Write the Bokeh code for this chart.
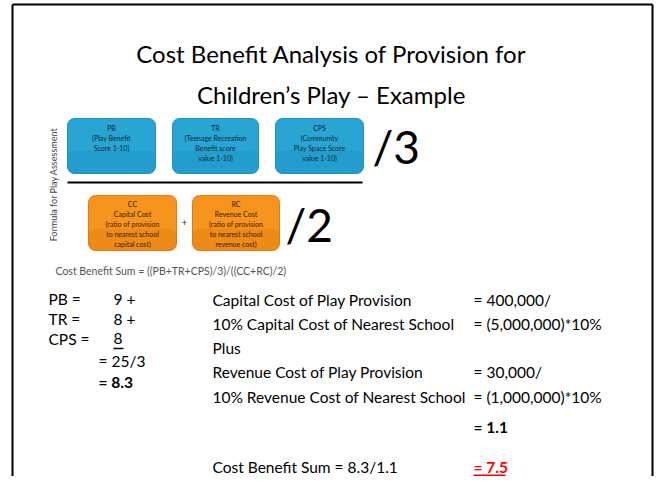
from bokeh.plotting import figure
from bokeh.models import Range1d
from bokeh.core.properties import value
from bokeh.embed import file_html
from bokeh.resources import INLINE

FONT = "Lato"

title_lines = ["Cost Benefit Analysis of Provision for", "Children\u2019s Play \u2013 Example"]

# diagram
top_labels = ["PB", "TR", "CPS"]
top_desc = [["(Play Benefit", "Score 1-10)"],
            ["(Teenage Recreation", "Benefit score", "value 1-10)"],
            ["(Community", "Play Space Score", "value 1-10)"]]
bottom_labels = ["CC", "RC"]
bottom_desc = [["Capital Cost", "(ratio of provision", "to nearest school", "capital cost)"],
               ["Revenue Cost", "(ratio of provision", "to nearest school", "revenue cost)"]]
side_label = "Formula for Play Assessment"
caption = "Cost Benefit Sum = ((PB+TR+CPS)/3)/((CC+RC)/2)"

# left sums
score_names = ["PB =", "TR =", "CPS ="]
score_values = ["9 +", "8 +", "8"]
score_total = "= 25/3"
score_result = "= 8.3"

# right costs
cost_labels = ["Capital Cost of Play Provision",
               "10% Capital Cost of Nearest School",
               "Plus",
               "Revenue Cost of Play Provision",
               "10% Revenue Cost of Nearest School"]
cost_values = ["= 400,000/", "= (5,000,000)*10%", "", "= 30,000/", "= (1,000,000)*10%"]
cost_result = "= 1.1"
final_label = "Cost Benefit Sum = 8.3/1.1"
final_result = "= 7.5"

W, H = 655, 476
p = figure(width=W, height=H, output_backend="svg", toolbar_location=None,
           x_range=Range1d(0, W), y_range=Range1d(H, 0), min_border=0)
p.axis.visible = False
p.grid.visible = False
p.outline_line_color = None
p.background_fill_color = "white"
p.border_fill_color = "white"

# slide border
p.segment(x0=[12, 652, 12], y0=[4, 4, 4], x1=[12, 652, 652], y1=[490, 490, 4],
          line_color="black", line_width=2)

# title
p.text(x=[331, 331], y=[53, 94], text=title_lines, text_font=value(FONT), text_font_size="24px",
       text_align="center", text_baseline="middle", text_color="black")

# blue boxes
bx0 = [67, 172, 275]
bx1 = [155, 258, 363]
p.quad(left=bx0, right=bx1, top=[118] * 3, bottom=[173] * 3, fill_color="#29a5d4",
       line_color="#1e90bf", border_radius=7)
p.quad(left=bx0, right=bx1, top=[150] * 3, bottom=[173] * 3, fill_color="#1b8fc0",
       fill_alpha=0.35, line_color=None, border_radius=7)
for i in range(3):
    cx = (bx0[i] + bx1[i]) / 2
    lines = [top_labels[i]] + top_desc[i]
    p.text(x=[cx] * len(lines), y=[127 + 10 * k for k in range(len(lines))], text=lines,
           text_font=value(FONT), text_font_size="7px", text_align="center",
           text_baseline="middle", text_color="#0d2a3a")
p.text(x=[372], y=[146], text=["/3"], text_font=value(FONT), text_font_size="46px",
       text_align="left", text_baseline="middle", text_color="black")

# fraction line
p.segment(x0=[67], y0=[182], x1=[362], y1=[182], line_color="black", line_width=2)

# orange boxes
ox0 = [88, 192]
ox1 = [176, 279]
p.quad(left=ox0, right=ox1, top=[195] * 2, bottom=[250] * 2, fill_color="#f7941e",
       line_color="#e07b0c", border_radius=7)
p.quad(left=ox0, right=ox1, top=[228] * 2, bottom=[250] * 2, fill_color="#d9730a",
       fill_alpha=0.3, line_color=None, border_radius=7)
for i in range(2):
    cx = (ox0[i] + ox1[i]) / 2
    lines = [bottom_labels[i]] + bottom_desc[i]
    p.text(x=[cx] * len(lines), y=[203 + 10 * k for k in range(len(lines))], text=lines,
           text_font=value(FONT), text_font_size="7px", text_align="center",
           text_baseline="middle", text_color="#3a1a00")
p.text(x=[184], y=[222], text=["+"], text_font=value(FONT), text_font_size="10px",
       text_align="center", text_baseline="middle", text_color="#333333")
p.text(x=[285], y=[224], text=["/2"], text_font=value(FONT), text_font_size="46px",
       text_align="left", text_baseline="middle", text_color="black")

# side label and caption
p.text(x=[53], y=[184], text=[side_label], angle=1.5708, text_font=value(FONT),
       text_font_size="9px", text_align="center", text_baseline="middle", text_color="#444444")
p.text(x=[55], y=[270], text=[caption], text_font=value(FONT), text_font_size="10.5px",
       text_align="left", text_baseline="middle", text_color="#555555")

BODY = "15.5px"
# left column
ys = [298, 318, 338]
p.text(x=[48] * 3, y=ys, text=score_names, text_font=value(FONT), text_font_size=BODY,
       text_align="left", text_baseline="middle", text_color="black")
p.text(x=[113] * 3, y=ys, text=score_values, text_font=value(FONT), text_font_size=BODY,
       text_align="left", text_baseline="middle", text_color="black")
p.segment(x0=[113], y0=[348], x1=[123], y1=[348], line_color="black", line_width=1.5)
p.text(x=[98], y=[360], text=[score_total], text_font=value(FONT), text_font_size=BODY,
       text_align="left", text_baseline="middle", text_color="black")
p.text(x=[98], y=[381], text=[score_result], text_font=value(FONT), text_font_size=BODY,
       text_font_style="bold", text_align="left", text_baseline="middle", text_color="black")

# right column
EQ = 473
rys = [299, 323, 347, 371, 396]
p.text(x=[212] * 5, y=rys, text=cost_labels, text_font=value(FONT), text_font_size=BODY,
       text_align="left", text_baseline="middle", text_color="black")
p.text(x=[EQ] * 5, y=rys, text=cost_values, text_font=value(FONT), text_font_size=BODY,
       text_align="left", text_baseline="middle", text_color="black")
p.text(x=[EQ], y=[426], text=[cost_result], text_font=value(FONT), text_font_size=BODY,
       text_font_style="bold", text_align="left", text_baseline="middle", text_color="black")
p.text(x=[212], y=[466], text=[final_label], text_font=value(FONT), text_font_size=BODY,
       text_align="left", text_baseline="middle", text_color="black")
p.text(x=[EQ], y=[466], text=[final_result], text_font=value(FONT), text_font_size=BODY,
       text_font_style="bold", text_align="left", text_baseline="middle", text_color="#ff0000")
p.segment(x0=[EQ], y0=[475], x1=[EQ + 32], y1=[475], line_color="#ff0000", line_width=2)

open("out.html", "w").write(file_html(p, INLINE))
